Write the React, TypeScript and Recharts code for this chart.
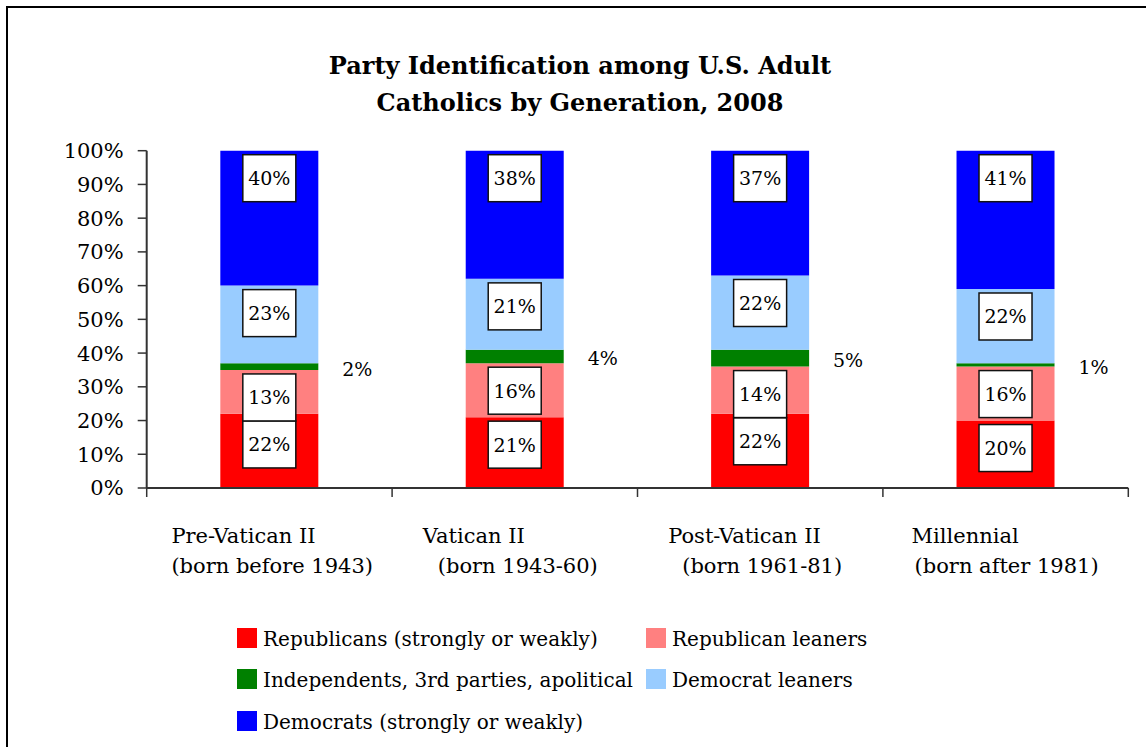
import { BarChart, Bar, XAxis, YAxis, LabelList } from 'recharts';

const generations = ['Pre-Vatican II', 'Vatican II', 'Post-Vatican II', 'Millennial'];
const birthYears = ['(born before 1943)', '(born 1943-60)', '(born 1961-81)', '(born after 1981)'];

const republicans = [22, 21, 22, 20];
const republicanLeaners = [13, 16, 14, 16];
const independents = [2, 4, 5, 1];
const democratLeaners = [23, 21, 22, 22];
const democrats = [40, 38, 37, 41];

const yTicks = [0, 10, 20, 30, 40, 50, 60, 70, 80, 90, 100];

const series = [
  { key: 'republicans', name: 'Republicans (strongly or weakly)', color: '#FF0000' },
  { key: 'republicanLeaners', name: 'Republican leaners', color: '#FF8080' },
  { key: 'independents', name: 'Independents, 3rd parties, apolitical', color: '#008000' },
  { key: 'democratLeaners', name: 'Democrat leaners', color: '#99CCFF' },
  { key: 'democrats', name: 'Democrats (strongly or weakly)', color: '#0000FF' },
];

const rows = generations.map((name, i) => ({
  name,
  republicans: republicans[i],
  republicanLeaners: republicanLeaners[i],
  independents: independents[i],
  democratLeaners: democratLeaners[i],
  democrats: democrats[i],
}));

const FONT = 'DejaVu Serif';
const W = 1146;
const H = 747;
const PLOT_LEFT = 146.7;
const PLOT_RIGHT = 1128.3;
const PLOT_TOP = 150.7;
const PLOT_BOTTOM = 488;
const X_AXIS_H = 100;
const BAND = (PLOT_RIGHT - PLOT_LEFT) / generations.length;

// start offsets of the two category lines, relative to the band centre
const lineIndent = [
  [-98, -98],
  [-92, -77],
  [-92, -78],
  [-94, -91],
];

const BOX_W = 53;
const BOX_H = 47;
const BOX_PAD = 4;

function boxAt(cx: number, top: number, value: number, key: string) {
  return (
    <g key={key}>
      <rect x={cx - BOX_W / 2} y={top} width={BOX_W} height={BOX_H} fill="#fff" stroke="#111" strokeWidth={1.5} />
      <text x={cx} y={top + BOX_H / 2 + 7} textAnchor="middle" fontFamily={FONT} fontSize={19} fill="#000">
        {`${value}%`}
      </text>
    </g>
  );
}

// label box pinned to the top edge of its segment
const InsideEndLabel = (props: any) => {
  const { x, y, width, value, index } = props;
  return boxAt(Number(x) + Number(width) / 2, Number(y) + BOX_PAD, value, `in-${index}`);
};

// bottom segment: pushed down so it doesn't run into the leaners box above it
const RepublicanLabel = (props: any) => {
  const { x, y, width, height, value, index } = props;
  const perUnit = Number(height) / Number(value);
  const leanTop = Number(y) - republicanLeaners[index] * perUnit;
  const top = Math.max(Number(y) + BOX_PAD, leanTop + BOX_PAD + BOX_H);
  return boxAt(Number(x) + Number(width) / 2, top, value, `rep-${index}`);
};

const OutsideLabel = (props: any) => {
  const { x, y, width, height, value } = props;
  return (
    <text
      x={Number(x) + Number(width) + 39}
      y={Number(y) + Number(height) / 2 + 9}
      textAnchor="middle"
      fontFamily={FONT}
      fontSize={19}
      fill="#000"
    >
      {`${value}%`}
    </text>
  );
};

const CategoryTick = (props: any) => {
  const { x, payload, index } = props;
  const cx = Number(x);
  const indent = lineIndent[index] || [-95, -95];
  const left = cx - BAND / 2;
  return (
    <g>
      <line x1={left} x2={left} y1={PLOT_BOTTOM} y2={PLOT_BOTTOM + 9} stroke="#333" strokeWidth={1.5} />
      {index === generations.length - 1 && (
        <line x1={left + BAND} x2={left + BAND} y1={PLOT_BOTTOM} y2={PLOT_BOTTOM + 9} stroke="#333" strokeWidth={1.5} />
      )}
      <text x={cx + indent[0]} y={543} fontFamily={FONT} fontSize={21} fill="#000">
        {payload.value}
      </text>
      <text x={cx + indent[1]} y={573} fontFamily={FONT} fontSize={21} fill="#000">
        {birthYears[index]}
      </text>
    </g>
  );
};

const legendCells = [
  { s: series[0], x: 237, cy: 638 },
  { s: series[1], x: 646, cy: 638 },
  { s: series[2], x: 237, cy: 679 },
  { s: series[3], x: 646, cy: 679 },
  { s: series[4], x: 237, cy: 721 },
];

export default function App() {
  return (
    <div style={{ position: 'absolute', left: 0, top: 0, width: W, height: H, overflow: 'hidden', background: '#fff' }}>
      <BarChart
        width={W}
        height={H}
        data={rows}
        margin={{ top: PLOT_TOP, right: W - PLOT_RIGHT, bottom: H - PLOT_BOTTOM - X_AXIS_H, left: 0 }}
        barCategoryGap="30%"
      >
        {/* outer frame, right and bottom edges run off the page */}
        <rect x={7} y={7} width={W + 40} height={H + 40} fill="none" stroke="#000" strokeWidth={2} />
        <text x={580} y={74} textAnchor="middle" fontFamily={FONT} fontWeight="bold" fontSize={24} fill="#000">
          Party Identification among U.S. Adult
        </text>
        <text x={580} y={111} textAnchor="middle" fontFamily={FONT} fontWeight="bold" fontSize={24} fill="#000">
          Catholics by Generation, 2008
        </text>
        <XAxis
          dataKey="name"
          height={X_AXIS_H}
          interval={0}
          tickLine={false}
          axisLine={{ stroke: '#333', strokeWidth: 2 }}
          tick={<CategoryTick />}
        />
        <XAxis xAxisId="top" orientation="top" dataKey="name" height={0} tick={false} tickLine={false} axisLine={{ stroke: '#666', strokeWidth: 1.5 }} />
        <YAxis
          type="number"
          domain={[0, 100]}
          ticks={yTicks}
          interval={0}
          width={PLOT_LEFT}
          tickFormatter={(v: number) => `${v}%`}
          tickSize={9}
          tickMargin={14}
          tickLine={{ stroke: '#333', strokeWidth: 1.5 }}
          axisLine={{ stroke: '#333', strokeWidth: 2 }}
          tick={{ fill: '#000', fontFamily: FONT, fontSize: 21 }}
        />
        <YAxis yAxisId="right" orientation="right" type="number" domain={[0, 100]} width={0} tick={false} tickLine={false} axisLine={{ stroke: '#666', strokeWidth: 1.5 }} />
        <Bar dataKey="republicans" name={series[0].name} stackId="a" fill={series[0].color} isAnimationActive={false}>
          <LabelList dataKey="republicans" content={<RepublicanLabel />} />
        </Bar>
        <Bar dataKey="republicanLeaners" name={series[1].name} stackId="a" fill={series[1].color} isAnimationActive={false}>
          <LabelList dataKey="republicanLeaners" content={<InsideEndLabel />} />
        </Bar>
        <Bar dataKey="independents" name={series[2].name} stackId="a" fill={series[2].color} isAnimationActive={false}>
          <LabelList dataKey="independents" content={<OutsideLabel />} />
        </Bar>
        <Bar dataKey="democratLeaners" name={series[3].name} stackId="a" fill={series[3].color} isAnimationActive={false}>
          <LabelList dataKey="democratLeaners" content={<InsideEndLabel />} />
        </Bar>
        <Bar dataKey="democrats" name={series[4].name} stackId="a" fill={series[4].color} isAnimationActive={false}>
          <LabelList dataKey="democrats" content={<InsideEndLabel />} />
        </Bar>
        {legendCells.map(({ s, x, cy }) => (
          <g key={s.key}>
            <rect x={x} y={cy - 10} width={20} height={20} fill={s.color} />
            <text x={x + 26} y={cy + 8} fontFamily={FONT} fontSize={20} fill="#000">
              {s.name}
            </text>
          </g>
        ))}
      </BarChart>
    </div>
  );
}
